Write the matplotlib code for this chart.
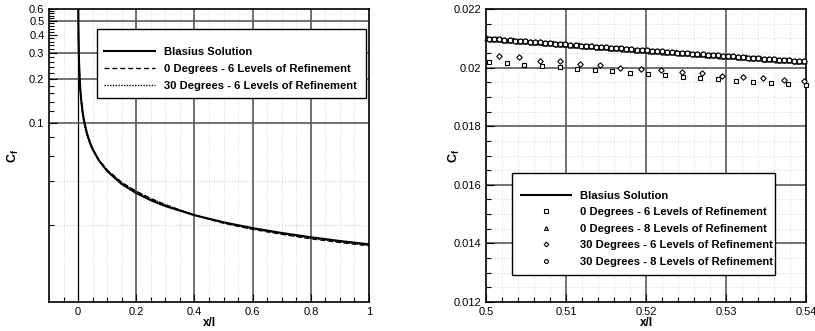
import matplotlib
matplotlib.use('Agg')
import matplotlib.pyplot as plt
from matplotlib.lines import Line2D
from matplotlib.patches import Rectangle
from matplotlib.ticker import FixedLocator, NullFormatter

plt.rcParams['font.family'] = ['Liberation Sans', 'DejaVu Sans']
plt.rcParams['mathtext.fontset'] = 'custom'
plt.rcParams['mathtext.rm'] = 'Liberation Sans'
plt.rcParams['mathtext.bf'] = 'Liberation Sans:bold'

# ---- left panel: whole plate (log y) ----
blasius_x = [0.00061, 0.001, 0.002, 0.003, 0.005, 0.0075, 0.01, 0.015, 0.02, 0.03,
             0.04, 0.05, 0.07, 0.1, 0.15, 0.2, 0.25, 0.3, 0.4, 0.5, 0.6, 0.7, 0.8, 0.9, 1.0]
blasius_cf = [0.600, 0.4695, 0.332, 0.2711, 0.210, 0.1714, 0.1485, 0.1212, 0.1050, 0.0857,
              0.0742, 0.0664, 0.0561, 0.04695, 0.0383, 0.0332, 0.0297, 0.0271, 0.02348,
              0.0210, 0.01917, 0.01775, 0.0166, 0.01565, 0.01485]

deg0_l6_x = [0.0011, 0.0033, 0.0055, 0.0077, 0.011, 0.015, 0.02, 0.03, 0.04, 0.05, 0.07,
             0.1, 0.15, 0.2, 0.25, 0.3, 0.35, 0.4, 0.5, 0.6, 0.7, 0.8, 0.9, 1.0]
deg0_l6_cf = [0.42, 0.26, 0.20, 0.167, 0.140, 0.119, 0.103, 0.0850, 0.0740, 0.0666, 0.0566,
              0.0478, 0.0393, 0.0342, 0.0305, 0.0277, 0.0254, 0.0235, 0.0207, 0.0188,
              0.0174, 0.0162, 0.0153, 0.0145]

deg30_l6_x = [0.0013, 0.0035, 0.006, 0.009, 0.013, 0.018, 0.025, 0.035, 0.05, 0.07, 0.1,
              0.15, 0.2, 0.25, 0.3, 0.35, 0.4, 0.5, 0.6, 0.7, 0.8, 0.9, 1.0]
deg30_l6_cf = [0.38, 0.25, 0.19, 0.155, 0.127, 0.107, 0.090, 0.0775, 0.0655, 0.0562, 0.0476,
               0.0392, 0.0341, 0.0304, 0.0277, 0.0255, 0.0236, 0.0208, 0.0189, 0.0175,
               0.0163, 0.0154, 0.0146]

# ---- right panel: close-up 0.5 < x/l < 0.54 ----
zoom_blasius_x = [0.5, 0.505, 0.51, 0.515, 0.52, 0.525, 0.53, 0.535, 0.54]
zoom_blasius_cf = [0.020998, 0.020894, 0.020791, 0.020689, 0.020590, 0.020491, 0.020394,
                   0.020299, 0.020205]

sq_x = [0.5004, 0.5026, 0.5048, 0.5070, 0.5092, 0.5114, 0.5136, 0.5158, 0.5180, 0.5202,
        0.5224, 0.5246, 0.5268, 0.5290, 0.5312, 0.5334, 0.5356, 0.5378, 0.5400]
sq_cf = [0.02019, 0.02015, 0.02010, 0.02005, 0.02001, 0.01995, 0.01992, 0.01987, 0.01983,
         0.01979, 0.01975, 0.01969, 0.01965, 0.01960, 0.01955, 0.01952, 0.01948, 0.01945,
         0.01941]

tri_x = [0.50010, 0.50065, 0.50120, 0.50175, 0.50230, 0.50285, 0.50340, 0.50395, 0.50450,
         0.50505, 0.50560, 0.50615, 0.50670, 0.50725, 0.50780, 0.50835, 0.50890, 0.50945,
         0.51000, 0.51055, 0.51110, 0.51165, 0.51220, 0.51275, 0.51330, 0.51385, 0.51440,
         0.51495, 0.51550, 0.51605, 0.51660, 0.51715, 0.51770, 0.51825, 0.51880, 0.51935,
         0.51990, 0.52045, 0.52100, 0.52155, 0.52210, 0.52265, 0.52320, 0.52375, 0.52430,
         0.52485, 0.52540, 0.52595, 0.52650, 0.52705, 0.52760, 0.52815, 0.52870, 0.52925,
         0.52980, 0.53035, 0.53090, 0.53145, 0.53200, 0.53255, 0.53310, 0.53365, 0.53420,
         0.53475, 0.53530, 0.53585, 0.53640, 0.53695, 0.53750, 0.53805, 0.53860, 0.53915,
         0.53970]
tri_cf = [0.020996, 0.020984, 0.020973, 0.020961, 0.020950, 0.020938, 0.020927, 0.020916,
          0.020904, 0.020893, 0.020881, 0.020870, 0.020859, 0.020847, 0.020836, 0.020825,
          0.020814, 0.020802, 0.020791, 0.020780, 0.020769, 0.020758, 0.020746, 0.020735,
          0.020724, 0.020713, 0.020702, 0.020691, 0.020680, 0.020669, 0.020658, 0.020647,
          0.020636, 0.020625, 0.020614, 0.020603, 0.020593, 0.020582, 0.020571, 0.020560,
          0.020549, 0.020538, 0.020528, 0.020517, 0.020506, 0.020496, 0.020485, 0.020474,
          0.020464, 0.020453, 0.020443, 0.020432, 0.020421, 0.020411, 0.020400, 0.020390,
          0.020379, 0.020369, 0.020358, 0.020348, 0.020338, 0.020327, 0.020317, 0.020306,
          0.020296, 0.020286, 0.020275, 0.020265, 0.020255, 0.020245, 0.020234, 0.020224,
          0.020214]

dia_x = [0.5016, 0.5041, 0.5067, 0.5092, 0.5118, 0.5143, 0.5168, 0.5194, 0.5219, 0.5245,
         0.5270, 0.5295, 0.5321, 0.5346, 0.5372, 0.5397]
dia_cf = [0.02038, 0.02035, 0.02024, 0.02021, 0.02011, 0.02010, 0.01998, 0.01995, 0.01992,
          0.01985, 0.01981, 0.01972, 0.01969, 0.01965, 0.01959, 0.01955]

circ_x = [0.500400, 0.501035, 0.501670, 0.502305, 0.502940, 0.503575, 0.504210, 0.504845,
          0.505480, 0.506115, 0.506750, 0.507385, 0.508020, 0.508655, 0.509290, 0.509925,
          0.510560, 0.511195, 0.511830, 0.512465, 0.513100, 0.513735, 0.514370, 0.515005,
          0.515640, 0.516275, 0.516910, 0.517545, 0.518180, 0.518815, 0.519450, 0.520085,
          0.520720, 0.521355, 0.521990, 0.522625, 0.523260, 0.523895, 0.524530, 0.525165,
          0.525800, 0.526435, 0.527070, 0.527705, 0.528340, 0.528975, 0.529610, 0.530245,
          0.530880, 0.531515, 0.532150, 0.532785, 0.533420, 0.534055, 0.534690, 0.535325,
          0.535960, 0.536595, 0.537230, 0.537865, 0.538500, 0.539135, 0.539770]
circ_cf = [0.020990, 0.020976, 0.020963, 0.020950, 0.020937, 0.020923, 0.020910, 0.020897,
           0.020884, 0.020871, 0.020858, 0.020845, 0.020832, 0.020819, 0.020806, 0.020793,
           0.020780, 0.020767, 0.020754, 0.020741, 0.020728, 0.020716, 0.020703, 0.020690,
           0.020677, 0.020665, 0.020652, 0.020639, 0.020627, 0.020614, 0.020602, 0.020589,
           0.020576, 0.020564, 0.020551, 0.020539, 0.020527, 0.020514, 0.020502, 0.020490,
           0.020477, 0.020465, 0.020453, 0.020440, 0.020428, 0.020416, 0.020404, 0.020392,
           0.020380, 0.020367, 0.020356, 0.020343, 0.020331, 0.020319, 0.020308, 0.020296,
           0.020284, 0.020272, 0.020260, 0.020248, 0.020236, 0.020224, 0.020213]

left_labels = ['Blasius Solution', '0 Degrees - 6 Levels of Refinement',
               '30 Degrees - 6 Levels of Refinement']
right_labels = ['Blasius Solution', '0 Degrees - 6 Levels of Refinement',
                '0 Degrees - 8 Levels of Refinement', '30 Degrees - 6 Levels of Refinement',
                '30 Degrees - 8 Levels of Refinement']

GRID = '#5a5a5a'
FAINT = '#d0d0d0'
LEG_FONT = {'weight': 'bold', 'size': 8.1}


def style_axes(ax, ylabel_x):
    for s in ax.spines.values():
        s.set_linewidth(1.2)
        s.set_color('black')
    ax.tick_params(which='both', direction='in', top=False, right=False,
                   labelsize=8, pad=3.3, width=0.8)
    ax.tick_params(which='major', length=6)
    ax.tick_params(which='minor', length=3.5)
    ax.set_xlabel('x/l', fontsize=8.5, fontweight='bold', labelpad=0)
    ax.set_ylabel(r'$\mathbf{C_f}$', fontsize=9)
    ax.yaxis.set_label_coords(ylabel_x, 0.5)


def legend_box(ax, x0, y0, x1, y1):
    # white framed box behind the legend entries (axes coords)
    ax.add_patch(Rectangle((x0, y0), x1 - x0, y1 - y0, transform=ax.transAxes,
                           facecolor='white', edgecolor='black', lw=1.0, zorder=4))


fig = plt.figure(figsize=(8.15, 3.31), dpi=100)

# left panel
ax1 = fig.add_axes([49 / 815, 29 / 331, 320 / 815, 293 / 331])
ax1.set_yscale('log')
ax1.set_xlim(-0.1, 1.0)
ax1.set_ylim(0.006, 0.6)
ax1.set_xticks([0, 0.2, 0.4, 0.6, 0.8, 1.0])
ax1.set_xticklabels(['0', '0.2', '0.4', '0.6', '0.8', '1'])
ax1.xaxis.set_minor_locator(FixedLocator([-0.05 + 0.05 * k for k in range(22)]))
ax1.yaxis.set_major_locator(FixedLocator([0.1, 0.2, 0.3, 0.4, 0.5, 0.6]))
ax1.set_yticklabels(['0.1', '0.2', '0.3', '0.4', '0.5', '0.6'])
ax1.yaxis.set_minor_locator(FixedLocator([0.02 * k for k in range(1, 30) if k % 5 != 0]))
ax1.yaxis.set_minor_formatter(NullFormatter())

for xv in [-0.05 + 0.05 * k for k in range(22)]:
    ax1.axvline(xv, color=FAINT, lw=0.6, ls=':', zorder=0)
for yv in [0.02, 0.04]:
    ax1.axhline(yv, color=FAINT, lw=0.8, ls=':', zorder=0)
for xv in [0.2, 0.4, 0.6, 0.8]:
    ax1.axvline(xv, color=GRID, lw=1.2, zorder=1)
ax1.axvline(0, color='black', lw=0.9, zorder=1)
for yv in [0.1, 0.2, 0.3, 0.5]:
    ax1.axhline(yv, color=GRID, lw=1.2, zorder=1)

ax1.plot(blasius_x, blasius_cf, color='black', lw=1.5, zorder=3)
ax1.plot(deg0_l6_x, deg0_l6_cf, color='black', lw=1.0, ls=(0, (3.5, 2.2)), zorder=3)
ax1.plot(deg30_l6_x, deg30_l6_cf, color='black', lw=1.0, ls=(0, (1, 1)), zorder=3)
style_axes(ax1, -0.0885)

legend_box(ax1, 0.149, 0.6952, 0.9897, 0.9307)
h1 = [Line2D([], [], color='black', lw=1.5),
      Line2D([], [], color='black', lw=1.0, ls=(0, (3.5, 2.2))),
      Line2D([], [], color='black', lw=1.0, ls=(0, (1, 1)))]
leg1 = ax1.legend(h1, left_labels, loc='upper left', bbox_to_anchor=(0.1719, 0.869),
                  prop=LEG_FONT, handlelength=4.5, handletextpad=0.8, labelspacing=0.6,
                  borderpad=0, borderaxespad=0, frameon=False)
leg1.set_zorder(5)

# right panel
ax2 = fig.add_axes([486 / 815, 29 / 331, 320 / 815, 293 / 331])
ax2.set_xlim(0.5, 0.54)
ax2.set_ylim(0.012, 0.022)
ax2.set_xticks([0.5, 0.51, 0.52, 0.53, 0.54])
ax2.set_xticklabels(['0.5', '0.51', '0.52', '0.53', '0.54'])
ax2.set_yticks([0.012, 0.014, 0.016, 0.018, 0.02, 0.022])
ax2.set_yticklabels(['0.012', '0.014', '0.016', '0.018', '0.02', '0.022'])
xminor = [0.5 + 0.002 * k for k in range(1, 20) if k % 5 != 0]
yminor = [0.012 + 0.0005 * k for k in range(1, 20) if k % 4 != 0]
ax2.xaxis.set_minor_locator(FixedLocator(xminor))
ax2.yaxis.set_minor_locator(FixedLocator(yminor))
for xv in xminor:
    ax2.axvline(xv, color=FAINT, lw=0.6, ls=':', zorder=0)
for yv in yminor:
    ax2.axhline(yv, color=FAINT, lw=0.6, ls=':', zorder=0)
for xv in [0.51, 0.52, 0.53]:
    ax2.axvline(xv, color=GRID, lw=1.2, zorder=1)
for yv in [0.014, 0.016, 0.018, 0.02]:
    ax2.axhline(yv, color=GRID, lw=1.2, zorder=1)

mk = dict(ls='none', mfc='white', mec='black', zorder=3, clip_on=False)
ax2.plot(zoom_blasius_x, zoom_blasius_cf, color='black', lw=1.5, zorder=3)
ax2.plot(tri_x, tri_cf, marker='^', ms=3.5, mew=0.9, **mk)
ax2.plot(circ_x, circ_cf, marker='o', ms=3.5, mew=0.9, **mk)
ax2.plot(sq_x, sq_cf, marker='s', ms=2.8, mew=0.8, **mk)
ax2.plot(dia_x, dia_cf, marker='D', ms=2.8, mew=0.8, **mk)
style_axes(ax2, -0.075)

legend_box(ax2, 0.0822, 0.0911, 0.903, 0.4413)
h2 = [Line2D([], [], color='black', lw=1.5),
      Line2D([], [], marker='s', ms=2.6, ls='none', mfc='white', mec='black', mew=0.8),
      Line2D([], [], marker='^', ms=2.8, ls='none', mfc='white', mec='black', mew=0.8),
      Line2D([], [], marker='D', ms=2.4, ls='none', mfc='white', mec='black', mew=0.8),
      Line2D([], [], marker='o', ms=2.8, ls='none', mfc='white', mec='black', mew=0.8)]
leg2 = ax2.legend(h2, right_labels, loc='upper left', bbox_to_anchor=(0.1094, 0.3805),
                  prop=LEG_FONT, handlelength=4.4, handletextpad=0.85, labelspacing=0.59,
                  borderpad=0, borderaxespad=0, frameon=False, numpoints=1)
leg2.set_zorder(5)

fig.savefig('out.png', dpi=100)
